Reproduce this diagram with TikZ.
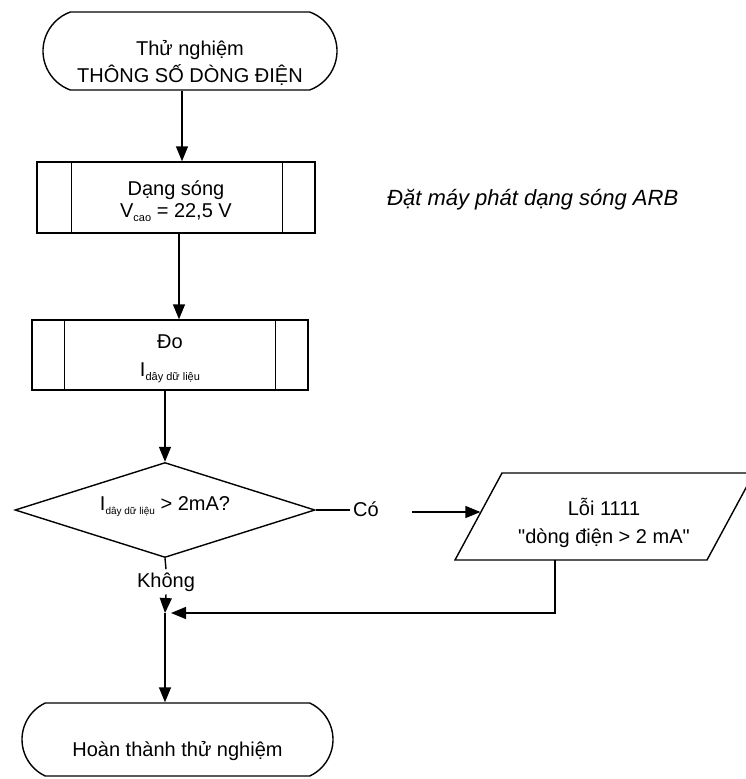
\documentclass[tikz,border=0pt]{standalone}
\usepackage{fontspec}
\setmainfont{Liberation Sans}
\usetikzlibrary{shapes.misc,shapes.geometric,arrows.meta}
\newcommand\lowsub[2]{\raisebox{-4pt}{\fontsize{#1}{#1}\selectfont #2}}
\newcommand\stk[3]{\raisebox{0pt}[#1][#2]{\begin{tabular}[b]{@{}c@{}}#3\end{tabular}}}
\newcommand\strq{{\addfontfeatures{Ligatures=TeXOff}"}}
\begin{document}
\begin{tikzpicture}[x=1pt,y=-1pt,
  basefont/.style={font=\fontsize{20}{24}\selectfont, inner sep=0pt},
  ln/.style={line width=1.4pt},
  term/.style={basefont, ln, draw, rounded rectangle},
  proc/.style={basefont, ln, draw, rectangle},
  dec/.style={basefont, ln, draw, diamond},
  lbl/.style={basefont, inner sep=3pt},
  arr/.style={ln, -{Triangle[width=12pt,length=15pt]}}]
\useasboundingbox (0,0) rectangle (746,779);

% start terminator
\node[term, rounded rectangle arc length=140, minimum width=294pt, minimum height=78pt,
      font=\fontsize{20}{27}\selectfont] (start) at (190,51)
  {\stk{62pt}{0pt}{Thử nghiệm\\THÔNG SỐ DÒNG ĐIỆN}};

% process 1
\node[proc, minimum width=278pt, minimum height=71pt, font=\fontsize{20}{22}\selectfont] (b1) at (176,197.5)
  {\stk{39pt}{0pt}{Dạng sóng\\V\lowsub{11}{cao} = 22,5 V}};
\draw[ln] ([xshift=35pt]b1.north west) -- ([xshift=35pt]b1.south west);
\draw[ln] ([xshift=-33pt]b1.north east) -- ([xshift=-33pt]b1.south east);

% note
\node[basefont, font=\fontsize{22}{26}\selectfont\itshape, anchor=base west] (note) at (387,205)
  {Đặt máy phát dạng sóng ARB};

% process 2
\node[proc, minimum width=276pt, minimum height=70pt, font=\fontsize{20}{28}\selectfont] (b2) at (170,355)
  {\stk{42pt}{0pt}{Đo\\I\lowsub{11}{dây dữ liệu}}};
\draw[ln] ([xshift=33pt]b2.north west) -- ([xshift=33pt]b2.south west);
\draw[ln] ([xshift=-33pt]b2.north east) -- ([xshift=-33pt]b2.south east);

% decision
\node[dec, shape aspect=3.16, minimum width=300pt, minimum height=95pt, text height=8pt, text depth=8pt] (d) at (165,510)
  {I\lowsub{10}{dây dữ liệu} > 2mA?\hspace{50pt}};

\node[lbl, anchor=base] (co) at (366,516) {Có};
\node[lbl, anchor=base] (ko) at (166,587) {Không};

% error parallelogram
\draw[ln] (455,560) -- (707,560) -- (754,473) -- (502,473) -- cycle;
\node[basefont, font=\fontsize{20}{28}\selectfont] (err) at (604,516.5)
  {\stk{53pt}{0pt}{Lỗi 1111\\\strq dòng điện > 2 mA\strq}};
\coordinate (pl) at (480.4,512);
\coordinate (pb) at (555,560);
\coordinate (j) at (165,613);

% end terminator
\node[term, rounded rectangle arc length=130, minimum width=311pt, minimum height=73pt,
      text height=38pt, text depth=5pt] (end) at (177.5,739.5) {Hoàn thành thử nghiệm};

% connectors
\draw[arr] ([xshift=-8pt]start.south) -- ([xshift=6pt]b1.north);
\draw[arr] ([xshift=3pt]b1.south) -- ([xshift=9pt]b2.north);
\draw[arr] ([xshift=-5pt]b2.south) -- (d.north);
\draw[ln] (d.east) -- (d.east -| co.west);
\draw[arr] ([xshift=30pt]co.east |- pl) -- (pl);
\draw[ln] (d.south) -- (ko.north);
\draw[arr] (ko.south) -- (j);
\draw[arr] (pb) |- ([xshift=6pt]j);
\draw[arr] (j) -- (j |- end.north);
\end{tikzpicture}
\end{document}
